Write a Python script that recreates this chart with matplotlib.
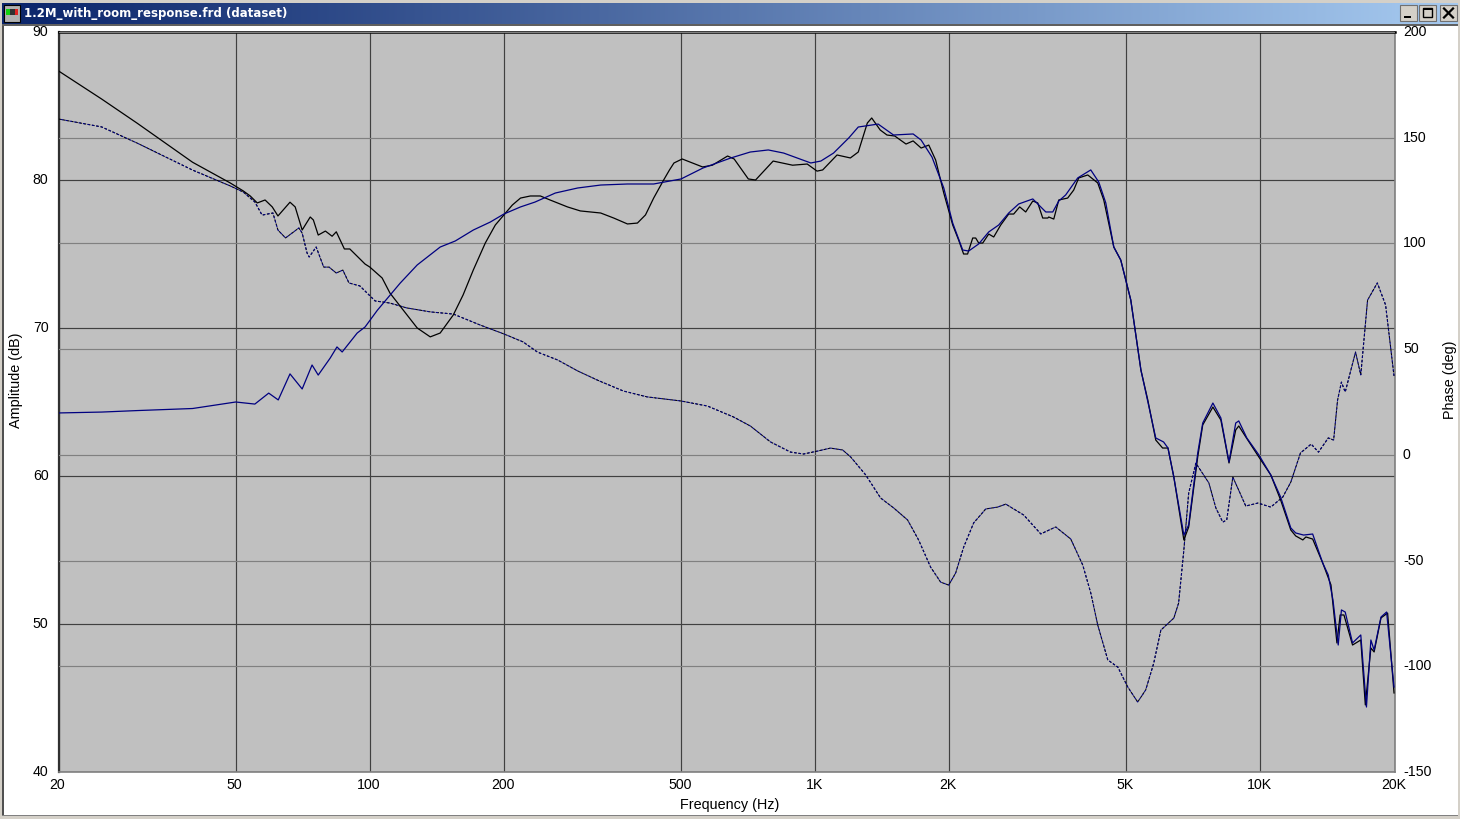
import matplotlib
matplotlib.use("Agg")
import matplotlib.pyplot as plt
import matplotlib.transforms as mtrans
import numpy as np
from matplotlib.patches import Rectangle
from matplotlib.ticker import NullLocator

plt.rcParams["font.family"] = ["Liberation Sans", "DejaVu Sans"]
plt.rcParams["axes.unicode_minus"] = False

# Amplitude curve 1 (black)
freq_black = [20, 25, 30, 40, 48.6, 52, 53.9, 55.9, 58.2, 60.4, 62.2, 66.2, 68, 70.5, 73.5, 74.7, 76.6,
              79.5, 82.3, 84.1, 87.7, 90.2, 97.6, 100, 106.6, 111, 119, 127.8, 136.7,
              143.9, 154, 162, 170.8, 181.7, 191.4, 200, 209, 218, 229.4, 241.6, 254, 278, 297, 330, 353,
              379, 399, 416, 434, 457, 471, 482, 503, 559, 588, 636, 658, 708, 735, 805, 890, 960, 1010,
              1040, 1120, 1200, 1250, 1310, 1340, 1400, 1450, 1510, 1600, 1660, 1730, 1800,
              1865, 1945, 2037, 2100, 2155, 2200, 2259, 2294, 2330, 2379, 2454, 2518, 2611, 2721, 2792,
              2880, 2971, 3082, 3162, 3244, 3330, 3347, 3435, 3525, 3691, 3808, 3908, 4095, 4312, 4448,
              4685, 4857, 5115, 5390, 5585, 5820, 6030, 6200, 6390, 6730, 6900, 7230, 7420,
              7820, 8150, 8500, 8800, 8940, 9270, 9920, 10550, 11100, 11700, 12000, 12450, 12650, 13100,
              13800, 14400, 14850, 15100, 15400, 16100, 16800, 17200, 17700, 18000, 18650, 19300, 19950]
amp_black = [87.37, 85.47, 83.85, 81.2, 79.8, 79.26, 78.92, 78.45, 78.65, 78.18, 77.57, 78.5, 78.18, 76.62,
             77.5, 77.3, 76.28, 76.55, 76.2, 76.5, 75.34, 75.34, 74.32, 74.12, 73.38, 72.36, 71.2, 70.0, 69.4,
             69.66, 70.88, 72.23, 73.92, 75.74, 76.96, 77.64, 78.31, 78.78, 78.92, 78.92, 78.65, 78.18, 77.91,
             77.77, 77.43, 77.03, 77.09, 77.64, 78.78, 80.0, 80.68, 81.15, 81.42, 80.88, 81.0, 81.62, 81.42,
             80.07, 80.0, 81.28, 81.0, 81.08, 80.6, 80.68, 81.69, 81.49, 81.89, 83.85, 84.19, 83.38, 83.04,
             82.97, 82.43, 82.64, 82.16, 82.36,
             81.35, 79.12, 76.96, 75.95, 75.0, 75.0, 76.08, 76.08, 75.74, 75.74, 76.35, 76.15, 76.96, 77.7,
             77.7, 78.18, 77.84, 78.58, 78.45, 77.43, 77.43, 77.5, 77.36, 78.65, 78.78, 79.32, 80.14, 80.34,
             79.8, 78.65, 75.47, 74.59, 71.89, 67.16, 65.14, 62.43, 61.89, 61.89, 59.93, 55.68, 56.55, 61.28,
             63.45, 64.66, 63.78, 60.88, 63.11, 63.38, 62.64, 61.28, 60.07, 58.38, 56.35, 55.95, 55.68, 55.88,
             55.74, 54.12, 52.64, 48.72, 50.61, 50.61, 48.58, 48.92, 44.53, 48.38, 48.11, 50.41, 50.74, 45.34]

# Amplitude curve 2 (blue)
freq_blue = [20, 25, 30, 40, 50, 55.2, 59.3, 62.3, 66.2, 70.5, 74.2, 76.6, 81.5, 84.4, 86.7, 93.7, 97.6, 104,
             117, 127.8, 143.9, 155.6, 170.8, 186.5, 200, 218, 235, 261, 293, 330, 379, 434, 500, 560, 647,
             715, 785, 850, 978, 1030, 1100, 1190, 1250, 1385, 1500, 1660, 1730, 1830,
             1945, 2037, 2145, 2212, 2330, 2454, 2584, 2721, 2865, 3082, 3296, 3417, 3525, 3653, 3888, 4159,
             4335, 4495, 4685, 4857, 5115, 5390, 5820, 6060, 6200, 6390, 6730, 6900, 7230, 7420, 7820, 8150,
             8500, 8800, 8940, 9320, 9920, 10550, 11100, 11700, 12000, 12500, 13100, 13800, 14200, 14550,
             14950, 15200, 15500, 16100, 16800, 17300, 17700, 18000, 18650, 19200, 19950]
amp_blue = [64.26, 64.32, 64.42, 64.56, 65.0, 64.86, 65.6, 65.14, 66.9, 65.88, 67.5, 66.82, 67.97, 68.72, 68.38,
            69.66, 70.07, 71.2, 73.03, 74.26, 75.47, 75.88, 76.62, 77.16, 77.7, 78.18, 78.51, 79.12, 79.46,
            79.66, 79.73, 79.73, 80.07, 80.81, 81.49, 81.89, 82.03, 81.82, 81.15, 81.28, 81.82, 82.84, 83.58,
            83.78, 83.04, 83.11, 82.7, 81.55,
            79.46, 77.09, 75.27, 75.2, 75.68, 76.49, 76.96, 77.77, 78.38, 78.72, 77.84, 77.84, 78.58, 78.99,
            80.14, 80.68, 79.86, 78.45, 75.47, 74.59, 71.89,
            67.16, 62.57, 62.3, 61.89, 59.93, 56.01, 56.69, 61.55, 63.58, 64.93, 63.92, 60.95, 63.58, 63.72,
            62.57, 61.42, 60.07, 58.58, 56.49, 56.15, 56.01, 56.08, 54.12, 53.31, 51.62, 48.58, 50.95, 50.81,
            48.72, 49.26, 44.39, 48.92, 48.24, 50.47, 50.81, 45.74]

# Phase, both datasets sit almost on top of each other
freq_phase = [20, 25, 30, 40, 48.6, 52, 55.2, 57.3, 60.6, 62.2, 64.7, 69.3, 70.5, 72.3, 73.1, 75.8, 78.8, 81,
              84.1, 87, 89.8, 95, 102.8, 111, 121, 137, 154, 177, 200, 221, 238, 264, 293, 324, 371, 420, 499,
              573, 656, 716, 794, 881, 942, 1013, 1083, 1153, 1202, 1299, 1403, 1501, 1613, 1708, 1817, 1914,
              1995, 2068, 2156, 2270, 2416, 2570, 2680, 2942, 3212, 3470, 3750, 3990, 4160, 4312, 4542, 4784,
              5036, 5300, 5525, 5760, 5975, 6390, 6550, 6730, 6900, 7160, 7660, 7940,
              8230, 8400, 8670, 9270, 9870, 10550, 11230, 11700, 12300, 13000, 13500, 14200, 14600, 14900,
              15200, 15500, 16350, 16800, 17400, 18300, 19100, 19950]
phase_deg = [158.85, 155.1, 147.5, 134.7, 127.2, 124.3, 119.6, 113.4, 114.4, 106.3, 102.6, 107.3, 104.9, 95.5,
             93.6, 98.3, 88.8, 88.8, 86, 87.4, 81.3, 79.9, 72.8, 71.8, 69.5, 67.6, 66.6, 61.4, 57.2, 53.4, 48.6,
             44.9, 39.7, 35.4, 30.2, 27.4, 25.5, 23.1, 17.9, 13.6, 6.1, 1.3, 0.4, 1.8, 3.2, 2.3, -1, -9.5, -20.4,
             -25.1, -30.8, -40.3, -53.1, -60.2, -61.6, -55.9, -43.6, -32.2, -25.6, -24.7, -23.3, -28.5, -37.4,
             -34.1, -39.8, -52.1, -65.4, -80.5, -97, -100.4, -109.8, -116.9, -111.2, -98.5, -82.9,
             -77.2, -70.1, -45, -18.1, -3.9, -13.3, -25.1, -31.8, -30.8, -10.5, -24.2, -22.8, -24.7,
             -19.9, -12.9, 0.9, 5.1, 1.3, 8, 7, 25.9, 34.4, 29.7, 48.6, 37.8, 73.2, 81.3, 70.9, 37.3]

# Axis ticks
x_ticks = [20, 50, 100, 200, 500, 1000, 2000, 5000, 10000, 20000]
x_labels = ["20", "50", "100", "200", "500", "1K", "2K", "5K", "10K", "20K"]
amp_ticks = [40, 50, 60, 70, 80, 90]
phase_ticks = [-150, -100, -50, 0, 50, 100, 150, 200]

W, H = 1460, 819
fig = plt.figure(figsize=(W / 100, H / 100), dpi=100, facecolor="white")

# --- window frame, in pixel coordinates ---
chrome = fig.add_axes([0, 0, 1, 1], zorder=0)
chrome.axis("off")
face = "#d4d0c8"
chrome.add_patch(Rectangle((0, 0), W, 3, color=face, lw=0))
chrome.add_patch(Rectangle((0, 0), 2, H, color=face, lw=0))
chrome.add_patch(Rectangle((1458, 0), 2, H, color=face, lw=0))
chrome.add_patch(Rectangle((0, 815), W, 4, color=face, lw=0))
chrome.add_patch(Rectangle((2, 25), 1.5, 790, color="#505050", lw=0))
chrome.add_patch(Rectangle((2, 24), 1456, 1.5, color="#606060", lw=0))
chrome.add_patch(Rectangle((2, 814.5), 1456, 1, color="#808080", lw=0))

grad = np.linspace(0, 1, 512)[None, :, None]
c0 = np.array([10, 36, 106]) / 255
c1 = np.array([166, 202, 240]) / 255
chrome.imshow(c0 + grad * (c1 - c0), extent=(2, 1458, 24, 3), aspect="auto", zorder=1)
chrome.set_xlim(0, W)
chrome.set_ylim(H, 0)
chrome.text(24, 13.5, "1.2M_with_room_response.frd (dataset)", color="white", fontsize=8.5,
            fontweight="bold", family="DejaVu Sans", va="center", ha="left", zorder=3)

# icon
chrome.add_patch(Rectangle((4, 5), 16, 17, facecolor="#b0b0b0", edgecolor="black", lw=0.8, zorder=2))
chrome.add_patch(Rectangle((6, 9), 4, 6, color="#10d010", lw=0, zorder=3))
chrome.add_patch(Rectangle((10, 9), 5, 6, color="#303030", lw=0, zorder=3))
chrome.add_patch(Rectangle((15, 9), 2.5, 6, color="#e02020", lw=0, zorder=3))

# window buttons
for bx in [1400, 1419, 1440]:
    chrome.add_patch(Rectangle((bx, 5), 17, 16, facecolor=face, edgecolor="#707070", lw=0.8, zorder=2))
chrome.add_patch(Rectangle((1404, 16), 7, 2, color="black", lw=0, zorder=3))
chrome.add_patch(Rectangle((1423, 8), 9, 9, facecolor="none", edgecolor="black", lw=1, zorder=3))
chrome.add_patch(Rectangle((1423, 8), 9, 2, color="black", lw=0, zorder=3))
chrome.plot([1444, 1453], [8.5, 17.5], color="black", lw=1.6, zorder=3)
chrome.plot([1444, 1453], [17.5, 8.5], color="black", lw=1.6, zorder=3)

# --- plot area ---
left, right, top, bottom = 58.5, 1394.5, 32, 772
pos = [left / W, 1 - bottom / H, (right - left) / W, (bottom - top) / H]
ax = fig.add_axes(pos, zorder=1, facecolor="#c0c0c0")
ax2 = ax.twinx()   # phase, sits over the dB grid
ax3 = ax.twinx()   # amplitude curves on top
ax3.axis("off")

ax.set_xscale("log")
ax.set_xlim(20, 20000)
ax.set_ylim(40, 90)
ax3.set_ylim(40, 90)
ax2.set_ylim(-150, 200)

ax.set_xticks(x_ticks)
ax.set_xticklabels(x_labels)
ax.xaxis.set_minor_locator(NullLocator())
ax.set_yticks(amp_ticks)
ax2.set_yticks(phase_ticks)

ax.tick_params(axis="both", length=0, labelsize=10.2, pad=6.5, colors="black")
ax.tick_params(axis="x", pad=4.5)
ax2.tick_params(axis="y", length=0, labelsize=10.2, pad=6.8, colors="black")

ax.grid(True, axis="both", color="#404040", lw=0.85)
ax2.grid(True, axis="y", color="#808080", lw=0.85)
ax.set_axisbelow(True)
ax2.set_axisbelow(True)

ax2.plot(freq_phase, phase_deg, color="black", lw=0.75, ls=(0, (2.4, 1.7)))
ax2.plot(freq_phase, phase_deg, color="#000080", lw=0.75, ls=(2, (2.4, 1.9)))
ax3.plot(freq_black, amp_black, color="black", lw=0.9)
ax3.plot(freq_blue, amp_blue, color="#000080", lw=0.9)

for side, col, w in [("top", "black", 1.8), ("left", "#303030", 1.6), ("bottom", "#808080", 1.2), ("right", "#808080", 1.2)]:
    ax.spines[side].set_color(col)
    ax.spines[side].set_linewidth(w)
    ax2.spines[side].set_visible(False)
    ax3.spines[side].set_visible(False)

# labels sit a little up and left of the ticks in the reference
nudge = mtrans.ScaledTranslation(-1 / 100, 1.5 / 100, fig.dpi_scale_trans)
for lab in ax.get_yticklabels() + ax2.get_yticklabels():
    lab.set_transform(lab.get_transform() + nudge)
for lab in ax.get_xticklabels():
    lab.set_transform(lab.get_transform() + mtrans.ScaledTranslation(-1 / 100, 0, fig.dpi_scale_trans))

ax.set_xlabel("Frequency (Hz)", fontsize=10.4)
ax.xaxis.set_label_coords(0.5025, -0.0353, transform=ax.transAxes)
ax.set_ylabel("Amplitude (dB)", fontsize=10.4)
ax.yaxis.set_label_coords(-0.0265, 0.53, transform=ax.transAxes)
ax2.set_ylabel("Phase (deg)", fontsize=10.4)
ax2.yaxis.set_label_coords(1.036, 0.53, transform=ax.transAxes)

fig.savefig("out.png", dpi=100)
